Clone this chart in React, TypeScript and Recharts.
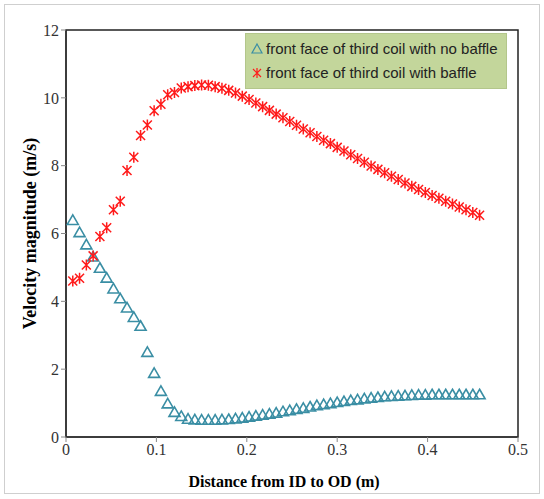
import { ScatterChart, Scatter, XAxis, YAxis, Legend, ReferenceArea } from 'recharts'

const xs = [0.0075, 0.015, 0.0225, 0.03, 0.0375, 0.045, 0.0525, 0.06, 0.0675, 0.075, 0.0825, 0.09, 0.0975, 0.105, 0.1125, 0.12, 0.1275, 0.135, 0.1425, 0.15, 0.1575, 0.165, 0.1725, 0.18, 0.1875, 0.195, 0.2025, 0.21, 0.2175, 0.225, 0.2325, 0.24, 0.2475, 0.255, 0.2625, 0.27, 0.2775, 0.285, 0.2925, 0.3, 0.3075, 0.315, 0.3225, 0.33, 0.3375, 0.345, 0.3525, 0.36, 0.3675, 0.375, 0.3825, 0.39, 0.3975, 0.405, 0.4125, 0.42, 0.4275, 0.435, 0.4425, 0.45, 0.4575]

const noBaffle = [6.40, 6.04, 5.68, 5.32, 4.99, 4.70, 4.38, 4.09, 3.82, 3.54, 3.28, 2.51, 1.89, 1.36, 0.99, 0.74, 0.62, 0.54,
  0.52, 0.51, 0.51, 0.51, 0.52, 0.53, 0.55, 0.57, 0.60, 0.63, 0.66, 0.69, 0.72, 0.76, 0.79, 0.83, 0.86, 0.90, 0.94, 0.97,
  1.00, 1.03, 1.06, 1.09, 1.11, 1.14, 1.16, 1.18, 1.20, 1.21, 1.22, 1.23, 1.24, 1.25, 1.25, 1.26, 1.26, 1.26, 1.26, 1.26, 1.26, 1.26, 1.26]

const withBaffle = [4.60, 4.68, 5.07, 5.34, 5.91, 6.17, 6.70, 6.95, 7.86, 8.25, 8.89, 9.20,
  9.62, 9.81, 10.09, 10.16, 10.29, 10.33, 10.36, 10.38, 10.37,
  10.33, 10.28, 10.22, 10.14, 10.05, 9.95, 9.85,
  9.74, 9.63, 9.52, 9.41, 9.30, 9.19, 9.08, 8.97, 8.86, 8.75, 8.65, 8.54, 8.43, 8.32, 8.21, 8.10, 7.99, 7.89, 7.79, 7.69,
  7.59, 7.49, 7.39, 7.30, 7.21, 7.12, 7.04, 6.95, 6.87, 6.78, 6.70, 6.62, 6.54]

const xTicks = [0, 0.1, 0.2, 0.3, 0.4, 0.5]
const yTicks = [0, 2, 4, 6, 8, 10, 12]

const names = ['front face of third coil with no baffle', 'front face of third coil with baffle']

const BLUE = '#3a8ea4'
const RED = '#ff1a1a'

const dataA = xs.map((x, i) => ({ x, y: noBaffle[i] }))
const dataB = xs.map((x, i) => ({ x, y: withBaffle[i] }))

const Tri = (p: any) => (
  <path d={`M${p.cx},${p.cy - 5}L${p.cx + 5.5},${p.cy + 4.5}L${p.cx - 5.5},${p.cy + 4.5}Z`} fill="none" stroke={BLUE} strokeWidth={1.6} />
)

const Star = (p: any) => (
  <path d={`M${p.cx - 4.5},${p.cy - 4.5}L${p.cx + 4.5},${p.cy + 4.5}M${p.cx + 4.5},${p.cy - 4.5}L${p.cx - 4.5},${p.cy + 4.5}M${p.cx},${p.cy - 5.5}L${p.cx},${p.cy + 5.5}`} fill="none" stroke={RED} strokeWidth={1.5} />
)

const LegendBox = () => (
  <div style={{ background: '#c3d69b', border: '1px solid #b3c68b', padding: '3px 4px', fontFamily: 'Liberation Sans, sans-serif', fontSize: 15, color: '#222', lineHeight: '24px', whiteSpace: 'nowrap' }}>
    <div style={{ display: 'flex', alignItems: 'center' }}>
      <svg width={14} height={14}><path d="M7,2L12,11L2,11Z" fill="none" stroke={BLUE} strokeWidth={1.2} /></svg>
      <span style={{ marginLeft: 2 }}>{names[0]}</span>
    </div>
    <div style={{ display: 'flex', alignItems: 'center' }}>
      <svg width={14} height={14}><path d="M3,3L11,11M11,3L3,11M7,2L7,12" fill="none" stroke={RED} strokeWidth={1.2} /></svg>
      <span style={{ marginLeft: 2 }}>{names[1]}</span>
    </div>
  </div>
)

export default function App() {
  return (
    <div style={{ position: 'absolute', left: 0, top: 0, width: 544, height: 499, background: '#fff' }}>
      <div style={{ position: 'absolute', left: 4, top: 4, width: 534, height: 488, border: '1px solid #cfcfcf' }} />
      <ScatterChart width={544} height={499} margin={{ top: 30, right: 26, bottom: 22, left: 0 }}>
        <ReferenceArea x1={0} x2={0.5} y1={0} y2={12} fill="none" stroke="#222" strokeWidth={1.5} />
        <XAxis type="number" dataKey="x" domain={[0, 0.5]} ticks={xTicks} height={40}
          axisLine={{ stroke: '#333', strokeWidth: 1.5 }} tickLine={{ stroke: '#888' }} tickSize={5}
          tick={{ fontFamily: 'Liberation Serif, serif', fontSize: 16, fill: '#333' }}
          label={{ value: 'Distance from ID to OD (m)', position: 'insideBottom', offset: -10, dx: -8, style: { fontFamily: 'Liberation Serif, serif', fontSize: 16, fontWeight: 'bold', fill: '#000' } }} />
        <YAxis type="number" dataKey="y" domain={[0, 12]} ticks={yTicks} width={66}
          axisLine={{ stroke: '#333', strokeWidth: 1.5 }} tickLine={{ stroke: '#888' }} tickSize={5}
          tick={{ fontFamily: 'Liberation Serif, serif', fontSize: 16, fill: '#333' }}
          label={{ value: 'Velocity magnitude (m/s)', angle: -90, position: 'insideLeft', offset: 30, style: { textAnchor: 'middle', fontFamily: 'Liberation Serif, serif', fontSize: 18, fontWeight: 'bold', fill: '#000' } }} />
        <Legend content={<LegendBox />} layout="horizontal" verticalAlign="middle" align="center" wrapperStyle={{ top: 33, left: 245, width: 262 }} />
        <Scatter name={names[0]} data={dataA} shape={Tri} isAnimationActive={false} />
        <Scatter name={names[1]} data={dataB} shape={Star} isAnimationActive={false} />
      </ScatterChart>
    </div>
  )
}
